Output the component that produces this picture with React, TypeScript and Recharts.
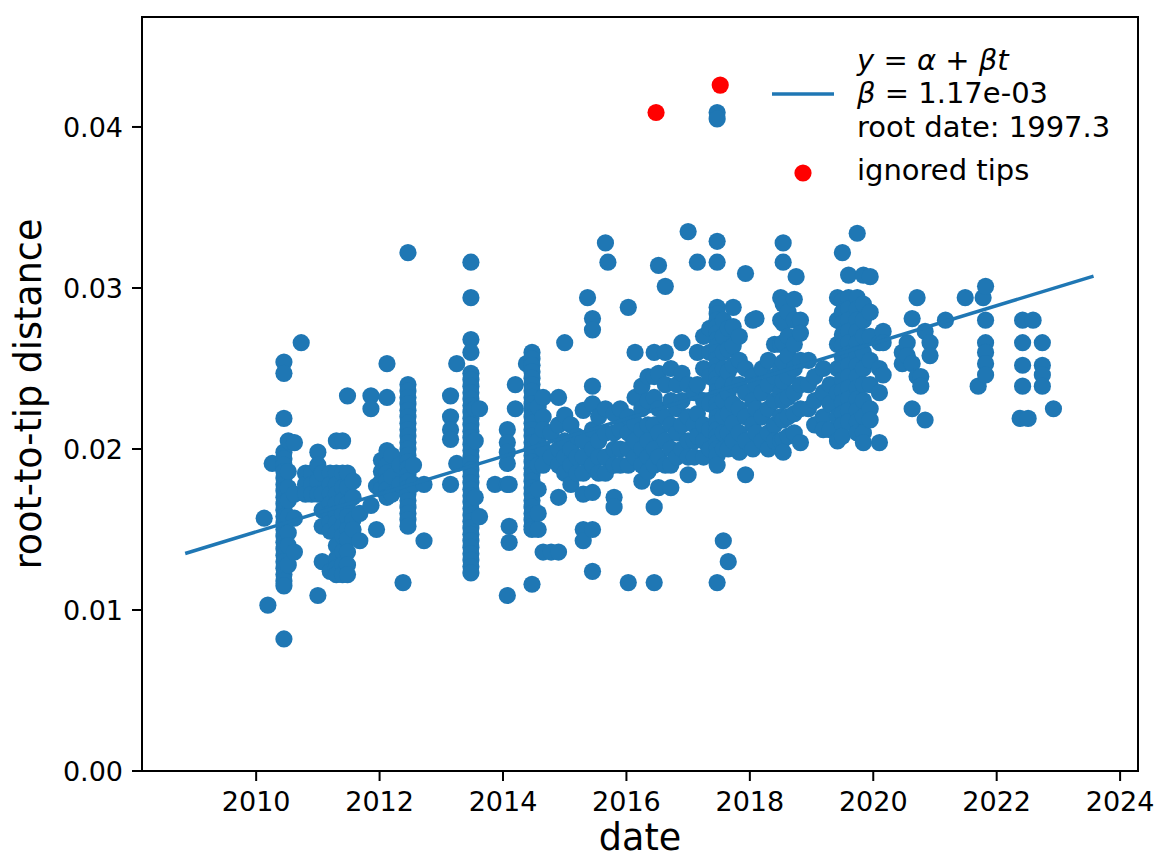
import React from 'react';
import { ScatterChart, Scatter, XAxis, YAxis } from 'recharts';

// sampling dates of the tips (decimal years) and their root-to-tip distances
const columnDates = [
  2010.13, 2010.19, 2010.26, 2010.45, 2010.52, 2010.62, 2010.73, 2010.8, 2010.9, 2011.0,
  2011.07, 2011.2, 2011.3, 2011.4, 2011.48, 2011.57, 2011.68, 2011.86, 2011.95, 2012.03,
  2012.12, 2012.2, 2012.33, 2012.38, 2012.46, 2012.55, 2012.72,
  2013.15, 2013.25, 2013.48, 2013.55, 2013.62, 2013.87, 2014.07, 2014.1, 2014.2, 2014.38,
  2014.47, 2014.57, 2014.65, 2014.78, 2014.9, 2015.0, 2015.1, 2015.2, 2015.3, 2015.37,
  2015.45, 2015.55, 2015.66, 2015.7, 2015.8, 2015.9, 2016.03, 2016.14, 2016.25, 2016.35,
  2016.45, 2016.52, 2016.63, 2016.72, 2016.82, 2016.9, 2017.0, 2017.1, 2017.15, 2017.25,
  2017.35, 2017.47, 2017.57, 2017.65, 2017.73, 2017.83, 2017.93, 2018.05, 2018.1, 2018.2,
  2018.3, 2018.4, 2018.5, 2018.54, 2018.62, 2018.72, 2018.75, 2018.82, 2018.95, 2019.05,
  2019.19, 2019.3, 2019.42, 2019.5, 2019.6, 2019.74, 2019.84, 2019.95, 2020.1, 2020.16,
  2020.47, 2020.55, 2020.63, 2020.71, 2020.77, 2020.84, 2020.92, 2021.17, 2021.49, 2021.7,
  2021.78, 2021.82, 2022.38, 2022.42, 2022.51, 2022.59, 2022.74, 2022.92,
];

const columnDistances = [
  [0.0157],
  [0.0103],
  [0.0191],
  [0.0254, 0.0247, 0.0219, 0.0198, 0.0194, 0.019, 0.0186, 0.0182, 0.0178, 0.0174, 0.017, 0.0166, 0.0162, 0.0158, 0.0154, 0.015, 0.0146, 0.0142, 0.0138, 0.0134, 0.013, 0.0126, 0.0122, 0.0118, 0.0115, 0.0082],
  [0.0205, 0.0186, 0.0176, 0.0168, 0.0158, 0.0148, 0.014, 0.0128],
  [0.0204, 0.0172, 0.0157, 0.0136],
  [0.0266],
  [0.0185, 0.0178, 0.0172],
  [0.0185, 0.0178, 0.0172],
  [0.0198, 0.019, 0.018, 0.0172, 0.0109],
  [0.0185, 0.0172, 0.0162, 0.0152, 0.013],
  [0.0185, 0.0178, 0.0172, 0.0166, 0.016, 0.0154, 0.0149, 0.0124],
  [0.0205, 0.0185, 0.0178, 0.0172, 0.0166, 0.016, 0.0154, 0.0148, 0.014, 0.0132, 0.0126, 0.0122],
  [0.0205, 0.0185, 0.0176, 0.0168, 0.016, 0.0152, 0.0146, 0.0136, 0.0128, 0.0122],
  [0.0233, 0.0185, 0.0176, 0.0166, 0.0158, 0.015, 0.0144, 0.0136, 0.0128, 0.0122],
  [0.018, 0.017, 0.0156, 0.015],
  [0.016, 0.0143],
  [0.0233, 0.0225, 0.0165],
  [0.0177, 0.015],
  [0.0193, 0.0186, 0.018, 0.0175],
  [0.0253, 0.0232, 0.0199, 0.019, 0.0185, 0.018, 0.0175, 0.017],
  [0.0196, 0.0183, 0.0172],
  [0.019, 0.0178],
  [0.0117],
  [0.0322, 0.024, 0.0236, 0.0232, 0.0228, 0.0224, 0.022, 0.0216, 0.0212, 0.0208, 0.0204, 0.02, 0.0196, 0.0192, 0.0188, 0.0184, 0.018, 0.0176, 0.0172, 0.0168, 0.0164, 0.016, 0.0156, 0.0152],
  [0.019, 0.0178],
  [0.0178, 0.0143],
  [0.0233, 0.022, 0.0212, 0.0206, 0.0178],
  [0.0253, 0.0191],
  [0.0316, 0.0294, 0.0268, 0.026, 0.0247, 0.0243, 0.0239, 0.0235, 0.0231, 0.0227, 0.0223, 0.0219, 0.0215, 0.0211, 0.0207, 0.0203, 0.0199, 0.0195, 0.0191, 0.0187, 0.0183, 0.0179, 0.0175, 0.0171, 0.0167, 0.0163, 0.0159, 0.0155, 0.0151, 0.0147, 0.0143, 0.0139, 0.0135, 0.0131, 0.0127, 0.0123],
  [0.0225, 0.0205, 0.017],
  [0.0225, 0.0158],
  [0.0178],
  [0.0212, 0.0204, 0.0198, 0.0191, 0.0178, 0.0109],
  [0.0178, 0.0152, 0.0142],
  [0.024, 0.0225],
  [0.0253],
  [0.026, 0.0256, 0.0252, 0.0248, 0.0244, 0.024, 0.0236, 0.0232, 0.0228, 0.0224, 0.022, 0.0216, 0.0212, 0.0208, 0.0204, 0.02, 0.0196, 0.0192, 0.0188, 0.0184, 0.018, 0.0176, 0.0172, 0.0168, 0.0164, 0.016, 0.0156, 0.0152, 0.015, 0.0116],
  [0.0226, 0.0205, 0.019, 0.0175, 0.016, 0.015],
  [0.0232, 0.022, 0.0212, 0.02, 0.019, 0.0136],
  [0.021, 0.0195, 0.0136],
  [0.0232, 0.0215, 0.02, 0.019, 0.017, 0.0136],
  [0.0266, 0.0221, 0.0205, 0.0195, 0.0185],
  [0.0215, 0.02, 0.019, 0.0178],
  [0.0208, 0.0195, 0.0185],
  [0.0224, 0.0205, 0.0195, 0.0185, 0.0172, 0.015, 0.0143],
  [0.0294],
  [0.0281, 0.0274, 0.0239, 0.0228, 0.0212, 0.02, 0.019, 0.0173, 0.015, 0.0124],
  [0.022, 0.0205, 0.0195, 0.0185],
  [0.0328, 0.0225, 0.021, 0.0195, 0.0185],
  [0.0316],
  [0.0222, 0.021, 0.02, 0.019, 0.017, 0.0164],
  [0.0225, 0.0212, 0.02, 0.019],
  [0.0288, 0.022, 0.021, 0.02, 0.019, 0.0117],
  [0.026, 0.0232, 0.0216, 0.0205, 0.0195],
  [0.0239, 0.0225, 0.0212, 0.02, 0.019, 0.018],
  [0.0245, 0.023, 0.0215, 0.0205, 0.0195, 0.0186],
  [0.026, 0.0245, 0.0232, 0.0215, 0.02, 0.019, 0.0164, 0.0117],
  [0.0314, 0.0247, 0.0225, 0.021, 0.0195, 0.0176],
  [0.0301, 0.026, 0.024, 0.022, 0.0205, 0.019],
  [0.025, 0.023, 0.0215, 0.02, 0.019, 0.0176],
  [0.024, 0.0225, 0.021, 0.0195],
  [0.0266, 0.0247, 0.023, 0.0215, 0.02],
  [0.0335, 0.024, 0.022, 0.0205, 0.0195, 0.0184],
  [0.0235, 0.0215, 0.0205, 0.0195],
  [0.0316, 0.026, 0.024, 0.0222, 0.0208],
  [0.027, 0.025, 0.023, 0.0215, 0.0205, 0.0195],
  [0.0275, 0.026, 0.0245, 0.0228, 0.0212, 0.02],
  [0.0409, 0.0405, 0.0329, 0.0316, 0.0288, 0.0284, 0.028, 0.0276, 0.0272, 0.0268, 0.0264, 0.026, 0.0256, 0.0252, 0.0248, 0.0244, 0.024, 0.0236, 0.0232, 0.0228, 0.0224, 0.022, 0.0216, 0.0212, 0.0208, 0.0204, 0.02, 0.0196, 0.019, 0.0117],
  [0.028, 0.027, 0.026, 0.025, 0.024, 0.023, 0.022, 0.021, 0.02, 0.0143],
  [0.0275, 0.0262, 0.0248, 0.0235, 0.0222, 0.021, 0.02, 0.013],
  [0.0288, 0.0276, 0.0264, 0.0252, 0.024, 0.0228, 0.0216, 0.0205],
  [0.027, 0.0255, 0.024, 0.0225, 0.021, 0.0198],
  [0.0309, 0.025, 0.0235, 0.022, 0.0205, 0.0184],
  [0.028, 0.0245, 0.023, 0.0215, 0.02],
  [0.0281, 0.024, 0.0225, 0.021],
  [0.025, 0.0235, 0.022, 0.0205],
  [0.0255, 0.024, 0.0225, 0.021, 0.02],
  [0.0265, 0.0245, 0.023, 0.0215, 0.0205],
  [0.0294, 0.028, 0.0265, 0.025, 0.0235, 0.022, 0.0205],
  [0.0328, 0.0316, 0.029, 0.0278, 0.0266, 0.0254, 0.0242, 0.023, 0.0218, 0.0206, 0.0198],
  [0.0285, 0.027, 0.0258, 0.0245, 0.0232, 0.022, 0.0208],
  [0.0293, 0.028, 0.0265, 0.025, 0.0235, 0.0222, 0.021],
  [0.0307],
  [0.028, 0.0272, 0.0255, 0.024, 0.0225, 0.0204],
  [0.0255, 0.024, 0.0225],
  [0.0245, 0.023, 0.0215],
  [0.025, 0.0235, 0.022, 0.0212],
  [0.024, 0.0228, 0.0212],
  [0.0294, 0.028, 0.0265, 0.025, 0.0235, 0.022, 0.0205],
  [0.0322, 0.0292, 0.0285, 0.0278, 0.0271, 0.0264, 0.0257, 0.025, 0.0243, 0.0236, 0.0229, 0.0222, 0.0215, 0.0208],
  [0.0308, 0.0294, 0.0287, 0.028, 0.0273, 0.0266, 0.0259, 0.0252, 0.0245, 0.0238, 0.0231, 0.0224, 0.0217],
  [0.0334, 0.0294, 0.0287, 0.028, 0.0273, 0.0266, 0.0259, 0.0252, 0.0245, 0.0238, 0.0231, 0.0224, 0.0217, 0.021],
  [0.0308, 0.029, 0.028, 0.027, 0.026, 0.025, 0.024, 0.023, 0.022, 0.021, 0.0204],
  [0.0307, 0.0285, 0.027, 0.0255, 0.024, 0.0225, 0.0218],
  [0.0266, 0.025, 0.0235, 0.0204],
  [0.0273, 0.0266, 0.0246],
  [0.026, 0.0253],
  [0.0266, 0.0258],
  [0.0281, 0.0253, 0.0225],
  [0.0294, 0.0245],
  [0.0245, 0.0239],
  [0.0273, 0.0218],
  [0.0266, 0.0258],
  [0.028],
  [0.0294],
  [0.0239],
  [0.0294],
  [0.0301, 0.028, 0.0266, 0.026, 0.0253, 0.0246],
  [0.0219],
  [0.028, 0.0266, 0.0252, 0.0239],
  [0.0219],
  [0.028],
  [0.0266, 0.0252, 0.0246, 0.0239],
  [0.0225],
];

// tips left out of the regression
const ignoredDates = [2016.48, 2017.52];
const ignoredDistances = [0.0409, 0.0426];

// fitted clock line y = alpha + beta t  (beta = 1.17e-3, root 1997.3)
const fitDates = [2008.85, 2023.57];
const fitDistances = [0.01351, 0.03074];

const xTicks = [2010, 2012, 2014, 2016, 2018, 2020, 2022, 2024];
const yTicks = [0, 0.01, 0.02, 0.03, 0.04];

const BLUE = '#1f77b4';
const RED = '#ff0000';
const FONT = 'DejaVu Sans, sans-serif';

const tipPoints = columnDates.flatMap((d, i) => columnDistances[i].map((v) => ({ date: d, dist: v })));
const ignoredPoints = ignoredDates.map((d, i) => ({ date: d, dist: ignoredDistances[i] }));
const fitPoints = fitDates.map((d, i) => ({ date: d, dist: fitDistances[i] }));

const dot = (color: string) => (props: any) => <circle cx={props.cx} cy={props.cy} r={8.6} fill={color} />;

const XTick = (p: any) => (
  <text x={p.x} y={p.y} dy="0.73em" textAnchor="middle" fontSize={27} fontFamily={FONT} fill="#000">
    {p.payload.value}
  </text>
);

const YTick = (p: any) => (
  <text x={p.x} y={p.y} dy="0.36em" textAnchor="end" fontSize={27} fontFamily={FONT} fill="#000">
    {Number(p.payload.value).toFixed(2)}
  </text>
);

// plot box: left 142, top 17, right 1138, bottom 771
export default function App() {
  return (
    <div style={{ position: 'relative', width: 1161, height: 859 }}>
      <style>{`body { margin: 0; }`}</style>
      <ScatterChart width={1161} height={859} margin={{ top: 17, right: 23, left: 0, bottom: 0 }}>
        <XAxis
          dataKey="date"
          type="number"
          domain={[2008.15, 2024.29]}
          ticks={xTicks}
          allowDataOverflow
          height={88}
          tick={<XTick />}
          tickSize={10}
          tickMargin={10}
          tickLine={{ stroke: '#000', strokeWidth: 2 }}
          axisLine={{ stroke: '#000', strokeWidth: 2 }}
        />
        <YAxis
          dataKey="dist"
          type="number"
          domain={[0, 0.04683]}
          ticks={yTicks}
          allowDataOverflow
          width={142}
          tick={<YTick />}
          tickSize={10}
          tickMargin={9}
          tickLine={{ stroke: '#000', strokeWidth: 2 }}
          axisLine={{ stroke: '#000', strokeWidth: 2 }}
        />
        <Scatter data={tipPoints} fill={BLUE} shape={dot(BLUE)} isAnimationActive={false} />
        <Scatter data={ignoredPoints} fill={RED} shape={dot(RED)} isAnimationActive={false} />
        <Scatter
          data={fitPoints}
          fill={BLUE}
          line={{ stroke: BLUE, strokeWidth: 3.5 }}
          shape={() => <g />}
          isAnimationActive={false}
        />
      </ScatterChart>
      <svg width={1161} height={859} style={{ position: 'absolute', left: 0, top: 0, pointerEvents: 'none' }}>
        <rect x={142} y={17} width={996} height={754} fill="none" stroke="#000" strokeWidth={2} />
        <g fontFamily={FONT} fill="#000" style={{ whiteSpace: 'pre' }}>
          <text x={640} y={850} fontSize={36.5} textAnchor="middle">date</text>
          <text x={41} y={394} fontSize={36.5} textAnchor="middle" transform="rotate(-90 41 394)">root-to-tip distance</text>
          <g fontSize={29}>
            <text x={857} y={70}>
              <tspan fontStyle="italic">y</tspan>
              <tspan> = </tspan>
              <tspan fontStyle="italic">α</tspan>
              <tspan> + </tspan>
              <tspan fontStyle="italic">βt</tspan>
            </text>
            <text x={857} y={103}>
              <tspan fontStyle="italic">β</tspan>
              <tspan> = 1.17e-03</tspan>
            </text>
            <text x={857} y={137}>root date: 1997.3</text>
            <text x={857} y={180}>ignored tips</text>
          </g>
          <line x1={772} y1={94} x2={834} y2={94} stroke={BLUE} strokeWidth={3.5} />
          <circle cx={803} cy={173} r={8.6} fill={RED} />
        </g>
      </svg>
    </div>
  );
}
